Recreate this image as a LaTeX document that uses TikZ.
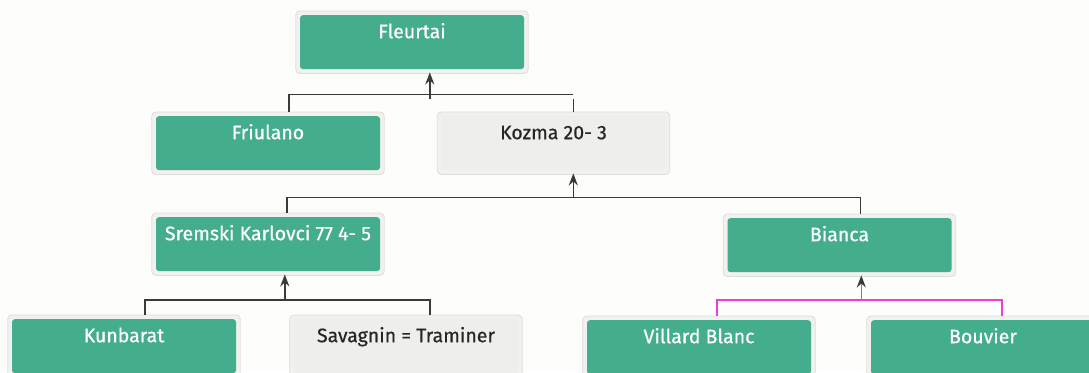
\documentclass[tikz,border=0pt]{standalone}
\usepackage{fontspec}
\setmainfont{Fira Sans}[BoldFont={Fira Sans},BoldFeatures={FakeBold=0.6}]
\usetikzlibrary{arrows.meta,backgrounds}
\definecolor{boxgreen}{HTML}{43AD8D}
\definecolor{boxgrey}{HTML}{EEEEEA}
\definecolor{rimfill}{HTML}{F1F1EF}
\definecolor{rimline}{HTML}{DDDDDA}
\definecolor{linegrey}{HTML}{3A3A3A}
\definecolor{pinkline}{HTML}{F23BD6}
\definecolor{bgcol}{HTML}{FDFDFB}
\tikzset{
  vbox/.style={rectangle, rounded corners=3pt, minimum width=224pt, inner xsep=0pt, inner ysep=0pt,
    text height=23pt, text depth=31pt, font=\fontsize{19.5}{21}\selectfont\bfseries, anchor=north},
  gbox/.style={vbox, fill=boxgreen, text=white},
  wbox/.style={vbox, fill=boxgrey, text=black!85},
  rim/.style={draw=rimline, fill=rimfill, line width=0.8pt, rounded corners=4pt},
  conn/.style={draw=linegrey, line width=1.5pt},
  pconn/.style={draw=pinkline, line width=1.5pt},
  up/.style={-{Stealth[length=12pt,width=9pt]}},
  pup/.style={-{Stealth[length=12pt,width=9pt,color=linegrey]}},
}
\newcommand{\rimof}[1]{\draw[rim] ([shift={(-4pt,-4pt)}]#1.south west) rectangle ([shift={(4pt,4pt)}]#1.north east);}
\begin{document}
\begin{tikzpicture}[x=1pt,y=-1pt]
\useasboundingbox (0,0) rectangle (1089,372);
\node[gbox] (fleurtai) at (412,15) {Fleurtai};
\node[gbox] (friulano) at (268,116) {Friulano};
\node[wbox] (kozma) at (553.5,116) {Kozma 20- 3};
\node[gbox] (sremski) at (268,217) {Sremski Karlovci 77 4- 5};
\node[gbox] (bianca) at (839.5,218) {Bianca};
\node[gbox] (kunbarat) at (124,319) {Kunbarat};
\node[wbox] (savagnin) at (406,319) {Savagnin = Traminer};
\node[gbox] (villard) at (699,320) {Villard Blanc};
\node[gbox] (bouvier) at (983,320) {Bouvier};
\begin{scope}[on background layer]
\fill[bgcol] (0,0) rectangle (1089,372);
\foreach \n in {fleurtai,friulano,kozma,sremski,bianca,kunbarat,savagnin,villard,bouvier}{\rimof{\n}}
\end{scope}
% Fleurtai <- Friulano, Kozma
\coordinate (b1) at ([xshift=130pt]fleurtai.south west |- 0,98.5);
\draw[conn] ([xshift=133pt,yshift=4pt]friulano.north west) |- ([xshift=132pt,yshift=4pt]kozma.north west |- b1);
\draw[conn] ([xshift=132pt,yshift=4pt]kozma.north west) -- ([xshift=132pt]kozma.north west |- b1);
\draw[conn,up] (b1) -- ([xshift=130pt,yshift=-3pt]fleurtai.south west);
% Kozma <- Sremski, Bianca
\coordinate (b2) at ([xshift=132pt]kozma.south west |- 0,197.5);
\draw[conn] ([xshift=131pt,yshift=4pt]sremski.north west) |- ([xshift=133pt]bianca.north west |- b2) -- ([xshift=133pt,yshift=4pt]bianca.north west);
\draw[conn,up] (b2) -- ([xshift=132pt,yshift=-3pt]kozma.south west);
% Sremski <- Kunbarat, Savagnin
\coordinate (b3) at ([xshift=129pt]sremski.south west |- 0,300);
\draw[conn] ([xshift=133pt,yshift=4pt]kunbarat.north west) |- ([xshift=136pt]savagnin.north west |- b3) -- ([xshift=136pt,yshift=4pt]savagnin.north west);
\draw[conn,up] (b3) -- ([xshift=129pt,yshift=-3pt]sremski.south west);
% Bianca <- Villard, Bouvier
\coordinate (b4) at ([xshift=134pt]bianca.south west |- 0,300);
\draw[pconn] ([xshift=130pt,yshift=4pt]villard.north west) |- ([xshift=131pt]bouvier.north west |- b4) -- ([xshift=131pt,yshift=4pt]bouvier.north west);
\draw[pconn,pup] (b4) -- ([xshift=134pt,yshift=-3pt]bianca.south west);
\end{tikzpicture}
\end{document}
